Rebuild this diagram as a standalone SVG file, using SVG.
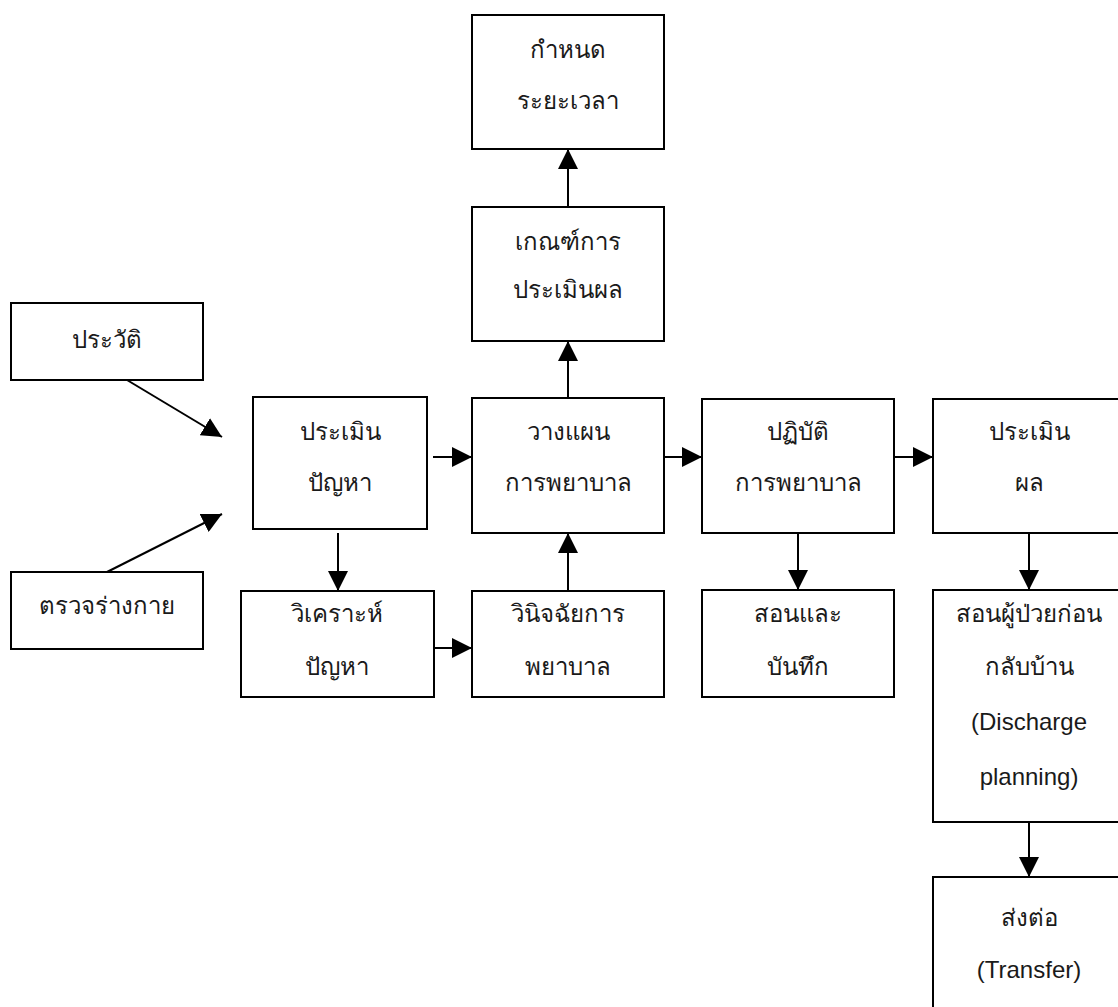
<svg xmlns="http://www.w3.org/2000/svg" width="1118" height="1007" viewBox="0 0 1118 1007">
  <style>
    .box { fill: #ffffff; stroke: #000000; stroke-width: 2; }
    .lbl { font-family: "Liberation Sans", "Noto Sans", sans-serif; font-size: 24px; fill: #1a1a1a; text-anchor: middle; }
    .edge { fill: none; stroke: #000000; stroke-width: 2; marker-end: url(#head); }
  </style>
  <defs>
    <marker id="head" markerUnits="userSpaceOnUse" markerWidth="20" markerHeight="20" refX="20" refY="10" orient="auto" viewBox="0 0 20 20">
      <path d="M0,0 L20,10 L0,20 z" fill="#000000"/>
    </marker>
  </defs>
  <rect width="1118" height="1007" fill="#ffffff"/>

  <!-- connectors -->
  <g id="connectors">
    <line class="edge" x1="127" y1="380" x2="222" y2="437"/>
    <line class="edge" x1="107" y1="572" x2="222" y2="514"/>
    <line class="edge" x1="433" y1="457" x2="472" y2="457"/>
    <line class="edge" x1="664" y1="457" x2="702" y2="457"/>
    <line class="edge" x1="894" y1="457" x2="933" y2="457"/>
    <line class="edge" x1="434" y1="648" x2="472" y2="648"/>
    <line class="edge" x1="338" y1="533" x2="338" y2="591"/>
    <line class="edge" x1="568" y1="591" x2="568" y2="533"/>
    <line class="edge" x1="568" y1="398" x2="568" y2="341"/>
    <line class="edge" x1="568" y1="207" x2="568" y2="149"/>
    <line class="edge" x1="798" y1="533" x2="798" y2="590"/>
    <line class="edge" x1="1029" y1="533" x2="1029" y2="590"/>
    <line class="edge" x1="1029" y1="822" x2="1029" y2="877"/>
  </g>

  <!-- nodes -->
  <g id="history">
    <rect class="box" x="11" y="303" width="192" height="77"/>
    <text class="lbl" x="107" y="348">ประวัติ</text>
  </g>
  <g id="physical-exam">
    <rect class="box" x="11" y="572" width="192" height="77"/>
    <text class="lbl" x="107" y="614">ตรวจร่างกาย</text>
  </g>
  <g id="assess-problem">
    <rect class="box" x="253" y="397" width="174" height="132"/>
    <text class="lbl" x="340" y="440">ประเมิน</text>
    <text class="lbl" x="340" y="491">ปัญหา</text>
  </g>
  <g id="analyse-problem">
    <rect class="box" x="241" y="591" width="193" height="106"/>
    <text class="lbl" x="337" y="622">วิเคราะห์</text>
    <text class="lbl" x="337" y="675">ปัญหา</text>
  </g>
  <g id="plan">
    <rect class="box" x="472" y="398" width="192" height="135"/>
    <text class="lbl" x="568" y="440">วางแผน</text>
    <text class="lbl" x="568" y="491">การพยาบาล</text>
  </g>
  <g id="diagnosis">
    <rect class="box" x="472" y="591" width="192" height="106"/>
    <text class="lbl" x="568" y="622">วินิจฉัยการ</text>
    <text class="lbl" x="568" y="675">พยาบาล</text>
  </g>
  <g id="criteria">
    <rect class="box" x="472" y="207" width="192" height="134"/>
    <text class="lbl" x="568" y="250">เกณฑ์การ</text>
    <text class="lbl" x="568" y="298">ประเมินผล</text>
  </g>
  <g id="timeframe">
    <rect class="box" x="472" y="15" width="192" height="134"/>
    <text class="lbl" x="568" y="58">กำหนด</text>
    <text class="lbl" x="568" y="109">ระยะเวลา</text>
  </g>
  <g id="implement">
    <rect class="box" x="702" y="399" width="192" height="134"/>
    <text class="lbl" x="798" y="440">ปฏิบัติ</text>
    <text class="lbl" x="798" y="491">การพยาบาล</text>
  </g>
  <g id="teach-record">
    <rect class="box" x="702" y="590" width="192" height="107"/>
    <text class="lbl" x="798" y="622">สอนและ</text>
    <text class="lbl" x="798" y="675">บันทึก</text>
  </g>
  <g id="evaluate">
    <rect class="box" x="933" y="399" width="192" height="134"/>
    <text class="lbl" x="1029" y="440">ประเมิน</text>
    <text class="lbl" x="1029" y="491">ผล</text>
  </g>
  <g id="discharge-planning">
    <rect class="box" x="933" y="590" width="192" height="232"/>
    <text class="lbl" x="1029" y="622">สอนผู้ป่วยก่อน</text>
    <text class="lbl" x="1029" y="675">กลับบ้าน</text>
    <text class="lbl" x="1029" y="730">(Discharge</text>
    <text class="lbl" x="1029" y="785">planning)</text>
  </g>
  <g id="transfer">
    <rect class="box" x="933" y="877" width="192" height="140"/>
    <text class="lbl" x="1029" y="926">ส่งต่อ</text>
    <text class="lbl" x="1029" y="978">(Transfer)</text>
  </g>
</svg>
